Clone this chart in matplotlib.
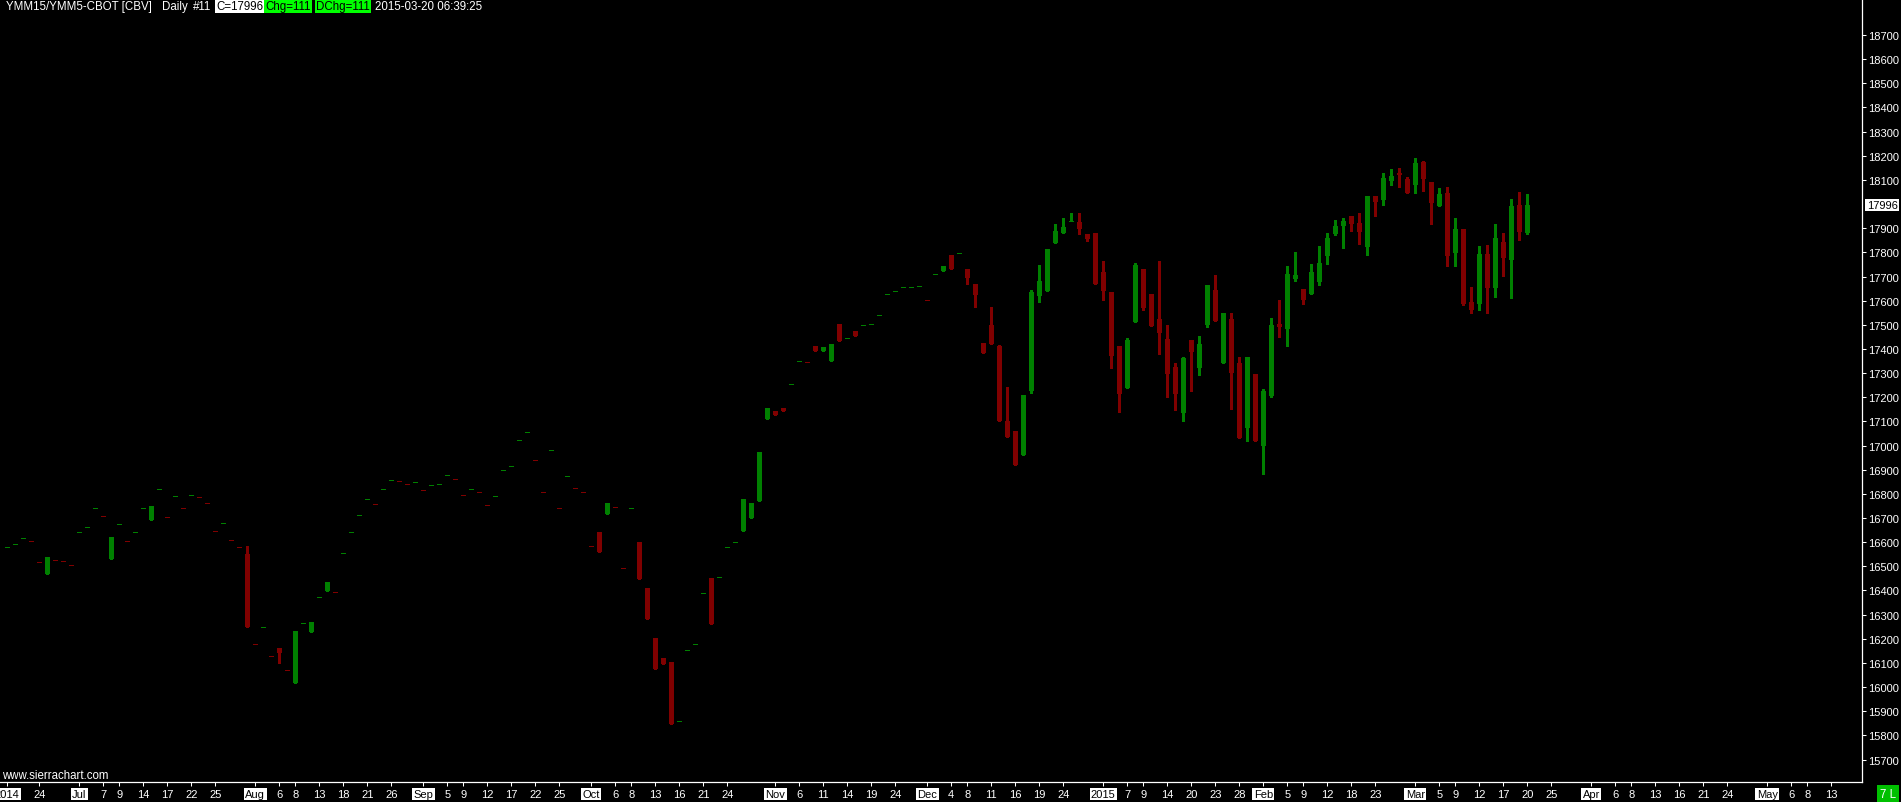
import numpy as np
import pandas as pd
import matplotlib
matplotlib.use('Agg')
import matplotlib.pyplot as plt

plt.rcParams['font.family'] = ['Liberation Sans', 'DejaVu Sans']

# daily OHLC, first bar = 2014-06-18
opens = [16579, 16591, 16616, 16604, 16517, 16468, 16525, 16521, 16504, 16641,
         16662, 16740, 16707, 16530, 16674, 16604, 16641, 16740, 16692, 16819,
         16703, 16790, 16740, 16794, 16786, 16761, 16645, 16678, 16608, 16579,
         16551, 16177, 16247, 16127, 16162, 16069, 16018, 16264, 16229, 16372,
         16398, 16392, 16554, 16641, 16711, 16777, 16757, 16819, 16856, 16852,
         16840, 16848, 16815, 16835, 16840, 16877, 16860, 16794, 16819, 16806,
         16753, 16790, 16898, 16914, 17022, 17055, 16939, 16806, 16980, 16740,
         16873, 16823, 16806, 16583, 16642, 16717, 16744, 16492, 16740, 16601,
         16410, 16203, 16120, 16104, 15858, 16152, 16177, 16388, 16452, 16454,
         16579, 16599, 16646, 16700, 16770, 17110, 17144, 17155, 17254, 17349,
         17345, 17412, 17392, 17350, 17503, 17444, 17474, 17498, 17502, 17539,
         17626, 17639, 17655, 17655, 17659, 17601, 17709, 17723, 17789, 17796,
         17731, 17669, 17425, 17499, 17412, 17102, 17060, 16962, 17227, 17619,
         17640, 17839, 17880, 17929, 17926, 17876, 17880, 17719, 17636, 17412,
         17238, 17512, 17731, 17628, 17524, 17441, 17325, 17135, 17437, 17321,
         17499, 17644, 17342, 17524, 17342, 17073, 17296, 16998, 17205, 17503,
         17483, 17690, 17648, 17628, 17677, 17785, 17876, 17909, 17950, 17922,
         17822, 18033, 18017, 18095, 18129, 18104, 18079, 18174, 18091, 17992,
         18046, 17797, 17897, 17594, 17586, 17793, 17652, 17843, 17768, 17996, 17880]
highs = [16579, 16591, 16616, 16604, 16517, 16539, 16525, 16521, 16504, 16641,
         16662, 16740, 16707, 16621, 16674, 16604, 16641, 16740, 16750, 16819,
         16703, 16790, 16740, 16794, 16786, 16761, 16645, 16678, 16608, 16579,
         16584, 16177, 16247, 16127, 16162, 16069, 16232, 16264, 16269, 16372,
         16435, 16392, 16554, 16641, 16711, 16777, 16757, 16819, 16856, 16852,
         16840, 16848, 16815, 16835, 16840, 16877, 16860, 16794, 16819, 16806,
         16753, 16790, 16898, 16914, 17022, 17055, 16939, 16806, 16980, 16740,
         16873, 16823, 16806, 16583, 16642, 16762, 16744, 16492, 16740, 16601,
         16410, 16203, 16120, 16104, 15858, 16152, 16177, 16388, 16452, 16454,
         16579, 16599, 16779, 16762, 16975, 17155, 17144, 17155, 17254, 17349,
         17345, 17412, 17408, 17421, 17503, 17444, 17474, 17498, 17502, 17539,
         17626, 17639, 17655, 17655, 17659, 17601, 17709, 17744, 17789, 17796,
         17731, 17669, 17425, 17572, 17416, 17241, 17060, 17209, 17644, 17748,
         17814, 17917, 17942, 17964, 17964, 17876, 17880, 17764, 17636, 17412,
         17445, 17756, 17731, 17628, 17764, 17499, 17342, 17367, 17437, 17454,
         17665, 17706, 17549, 17549, 17367, 17367, 17296, 17234, 17528, 17603,
         17744, 17801, 17648, 17752, 17826, 17880, 17934, 17942, 17950, 17963,
         18033, 18033, 18129, 18145, 18149, 18112, 18191, 18178, 18091, 18066,
         18071, 17942, 17897, 17657, 17826, 17830, 17917, 17880, 18021, 18050, 18042]
lows = [16579, 16591, 16616, 16604, 16517, 16468, 16525, 16521, 16504, 16641,
        16662, 16740, 16707, 16530, 16674, 16604, 16641, 16740, 16692, 16819,
        16703, 16790, 16740, 16794, 16786, 16761, 16645, 16678, 16608, 16579,
        16250, 16177, 16247, 16127, 16101, 16069, 16018, 16264, 16229, 16372,
        16398, 16392, 16554, 16641, 16711, 16777, 16757, 16819, 16856, 16852,
        16840, 16848, 16815, 16835, 16840, 16877, 16860, 16794, 16819, 16806,
        16753, 16790, 16898, 16914, 17022, 17055, 16939, 16806, 16980, 16740,
        16873, 16823, 16806, 16583, 16558, 16717, 16744, 16492, 16740, 16447,
        16282, 16075, 16094, 15847, 15858, 16152, 16177, 16388, 16261, 16454,
        16579, 16599, 16646, 16700, 16770, 17110, 17126, 17143, 17254, 17349,
        17345, 17392, 17392, 17350, 17433, 17444, 17454, 17498, 17502, 17539,
        17626, 17639, 17655, 17655, 17659, 17601, 17709, 17723, 17731, 17796,
        17669, 17574, 17383, 17421, 17102, 17037, 16921, 16962, 17219, 17596,
        17640, 17839, 17880, 17929, 17876, 17847, 17669, 17603, 17321, 17139,
        17238, 17512, 17561, 17495, 17379, 17201, 17147, 17102, 17226, 17292,
        17491, 17516, 17342, 17151, 17031, 17019, 17019, 16882, 17201, 17449,
        17412, 17681, 17586, 17628, 17665, 17752, 17872, 17818, 17888, 17835,
        17789, 17950, 17996, 18079, 18071, 18046, 18046, 18054, 17917, 17992,
        17744, 17744, 17582, 17549, 17561, 17549, 17615, 17702, 17611, 17851, 17876]
closes = [16579, 16591, 16616, 16604, 16517, 16539, 16525, 16521, 16504, 16641,
          16662, 16740, 16707, 16621, 16674, 16604, 16641, 16740, 16750, 16819,
          16703, 16790, 16740, 16794, 16786, 16761, 16645, 16678, 16608, 16579,
          16250, 16177, 16247, 16127, 16142, 16069, 16232, 16264, 16269, 16372,
          16435, 16392, 16554, 16641, 16711, 16777, 16757, 16819, 16856, 16852,
          16840, 16848, 16815, 16835, 16840, 16877, 16860, 16794, 16819, 16806,
          16753, 16790, 16898, 16914, 17022, 17055, 16939, 16806, 16980, 16740,
          16873, 16823, 16806, 16583, 16558, 16762, 16744, 16492, 16740, 16447,
          16282, 16075, 16094, 15847, 15858, 16152, 16177, 16388, 16261, 16454,
          16579, 16599, 16779, 16762, 16975, 17155, 17126, 17143, 17254, 17349,
          17345, 17392, 17408, 17421, 17433, 17444, 17454, 17498, 17502, 17539,
          17626, 17639, 17655, 17655, 17659, 17601, 17709, 17744, 17731, 17796,
          17694, 17623, 17383, 17421, 17102, 17037, 16921, 17209, 17636, 17681,
          17814, 17888, 17905, 17929, 17897, 17855, 17669, 17640, 17371, 17213,
          17437, 17748, 17570, 17495, 17466, 17296, 17213, 17362, 17387, 17421,
          17665, 17516, 17549, 17300, 17031, 17367, 17019, 17226, 17499, 17491,
          17710, 17706, 17603, 17719, 17756, 17859, 17909, 17930, 17917, 17884,
          18033, 18009, 18108, 18116, 18122, 18046, 18170, 18104, 18004, 18042,
          17785, 17897, 17586, 17561, 17793, 17652, 17859, 17777, 17992, 17885, 17996]

# exchange holidays skipped by the chart
holidays = ['2014-07-04', '2014-09-01', '2014-11-27', '2014-12-25',
            '2015-01-01', '2015-01-19', '2015-02-16']

# date scale labels
tick_dates = ['2014-06-18', '2014-06-24', '2014-07-01', '2014-07-07', '2014-07-09', '2014-07-14',
              '2014-07-17', '2014-07-22', '2014-07-25', '2014-08-01', '2014-08-06', '2014-08-08',
              '2014-08-13', '2014-08-18', '2014-08-21', '2014-08-26', '2014-09-02', '2014-09-05',
              '2014-09-09', '2014-09-12', '2014-09-17', '2014-09-22', '2014-09-25', '2014-10-01',
              '2014-10-06', '2014-10-08', '2014-10-13', '2014-10-16', '2014-10-21', '2014-10-24',
              '2014-11-03', '2014-11-06', '2014-11-11', '2014-11-14', '2014-11-19', '2014-11-24',
              '2014-12-01', '2014-12-04', '2014-12-08', '2014-12-11', '2014-12-16', '2014-12-19',
              '2014-12-24', '2015-01-02', '2015-01-07', '2015-01-09', '2015-01-14', '2015-01-20',
              '2015-01-23', '2015-01-28', '2015-02-02', '2015-02-05', '2015-02-09', '2015-02-12',
              '2015-02-18', '2015-02-23', '2015-03-02', '2015-03-05', '2015-03-09', '2015-03-12',
              '2015-03-17', '2015-03-20', '2015-03-25', '2015-04-01', '2015-04-06', '2015-04-08',
              '2015-04-13', '2015-04-16', '2015-04-21', '2015-04-24', '2015-05-01', '2015-05-06',
              '2015-05-08', '2015-05-13']
tick_texts = ['2014', '24', 'Jul', '7', '9', '14', '17', '22', '25', 'Aug', '6', '8',
              '13', '18', '21', '26', 'Sep', '5', '9', '12', '17', '22', '25', 'Oct',
              '6', '8', '13', '16', '21', '24', 'Nov', '6', '11', '14', '19', '24',
              'Dec', '4', '8', '11', '16', '19', '24', '2015', '7', '9', '14', '20',
              '23', '28', 'Feb', '5', '9', '12', '18', '23', 'Mar', '5', '9', '12',
              '17', '20', '25', 'Apr', '6', '8', '13', '16', '21', '24', 'May', '6',
              '8', '13']

last_close = 17996

W, H = 1901, 803
days = pd.bdate_range('2014-06-18', '2015-03-20')
days = days[~days.isin(pd.to_datetime(holidays))]
future = pd.bdate_range('2015-03-23', '2015-05-29')
all_days = days.append(future)
pos = {d: i for i, d in enumerate(all_days)}
x = np.arange(len(days))

o = np.array(opens, dtype=float)
c = np.array(closes, dtype=float)
h = np.maximum(np.array(highs, dtype=float), np.maximum(o, c))
l = np.minimum(np.array(lows, dtype=float), np.minimum(o, c))

prev = np.r_[c[0], c[:-1]]
up = (c > o) | ((c == o) & (c >= prev))
cols = np.where(up, '#008000', '#800000')

fig = plt.figure(figsize=(W / 100, H / 100), dpi=100, facecolor='black')
ax = fig.add_axes([0, 20 / H, 1862 / W, 783 / H])
ax.set_facecolor('black')

# wicks then bodies; flat bars get a one pixel dash
ax.vlines(x, l, h, colors=cols, linewidth=0.75, antialiased=False)
mid = (o + c) / 2
body = np.abs(c - o)
minh = 4.2
bot = np.where(body < minh, mid - minh / 2, np.minimum(o, c))
ax.bar(x, np.maximum(body, minh), bottom=bot, width=0.69, color=cols,
       linewidth=0, antialiased=False)

ax.set_xlim(-0.91, 231.84)
ax.set_ylim(15607, 18849)

for s in ['top', 'left']:
    ax.spines[s].set_visible(False)
for s in ['bottom', 'right']:
    ax.spines[s].set_color('white')
    ax.spines[s].set_linewidth(0.9)

ax.yaxis.tick_right()
yt = [v for v in range(15700, 18800, 100) if v != 18000]
ax.set_yticks(yt)
ax.tick_params(axis='y', colors='white', length=3, width=0.75, labelsize=8, pad=1.5)

xt = [pos[pd.Timestamp(d)] for d in tick_dates]
ax.set_xticks(xt, tick_texts)
ax.tick_params(axis='x', colors='white', length=3, width=0.75, labelsize=8, pad=2)
for lab in ax.get_xticklabels():
    t = lab.get_text()
    if not t.isdigit() or len(t) == 4:
        lab.set_color('black')
        lab.set_bbox(dict(boxstyle='square,pad=0.12', fc='white', ec='none'))

# last price box on the price scale
ax.text(1.0025, last_close, str(last_close), transform=ax.get_yaxis_transform(),
        ha='left', va='center', fontsize=8, color='black', clip_on=False,
        bbox=dict(boxstyle='square,pad=0.12', fc='white', ec='none'))


def px(xp, yp):
    return xp / W, 1 - yp / H


ty = 7
fig.text(*px(6, ty), 'YMM15/YMM5-CBOT [CBV]', color='white', fontsize=8.3, va='center')
fig.text(*px(162, ty), 'Daily', color='white', fontsize=8.3, va='center')
fig.text(*px(193, ty), '#11', color='white', fontsize=8.3, va='center')
fig.text(*px(216, ty), 'C=17996', color='black', fontsize=8.3, va='center',
         bbox=dict(boxstyle='square,pad=0.1', fc='white', ec='none'))
fig.text(*px(265, ty), 'Chg=111', color='black', fontsize=8.3, va='center',
         bbox=dict(boxstyle='square,pad=0.1', fc='#00ff00', ec='none'))
fig.text(*px(316, ty), 'DChg=111', color='black', fontsize=8.3, va='center',
         bbox=dict(boxstyle='square,pad=0.1', fc='#00ff00', ec='none'))
fig.text(*px(375, ty), '2015-03-20 06:39:25', color='white', fontsize=8.3, va='center')

fig.text(*px(2, 776), 'www.sierrachart.com', color='white', fontsize=8.3, va='center')
fig.text(*px(1888, 795), '7 L', color='white', fontsize=8.3, va='center', ha='center',
         bbox=dict(boxstyle='square,pad=0.25', fc='#00c000', ec='none'))

fig.savefig('out.png', dpi=100, facecolor='black')
